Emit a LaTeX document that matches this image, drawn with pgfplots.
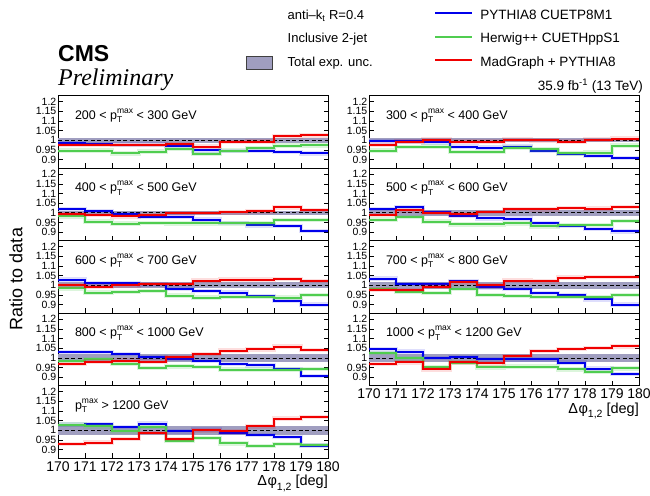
\documentclass[border=0pt]{standalone}
\usepackage{pgfplots}
\pgfplotsset{compat=1.18}
\usepackage{pgfplotstable}
\usepackage{fontspec}
\setmainfont{Liberation Sans}
\newfontfamily\serifit{Liberation Serif}
\definecolor{cblue}{RGB}{0,0,235}
\definecolor{hgreen}{RGB}{80,205,80}
\definecolor{cred}{RGB}{240,0,0}
\definecolor{cband}{RGB}{160,158,192}
\newcommand{\fs}[1]{\fontsize{#1}{#1}\selectfont}
\newcommand{\ptmax}{p\rlap{\raisebox{-0.5ex}{\fs{8.5}T}}\raisebox{0.9ex}{\fs{8.5}max}}
\tikzset{plab/.style={anchor=west, font=\fs{12.5}},
  xlab/.style={anchor=north east, font=\fs{14.5}, inner sep=0pt}}

\pgfplotsset{
  panel/.style={scale only axis, width=270pt, height=72.5pt, anchor=south west,
    xmin=170, xmax=180, ymin=0.857, ymax=1.232, no markers,
    xtick={170,171,...,180}, xticklabels={},
    ytick={0.9,0.95,1,1.05,1.1,1.15,1.2}, yticklabels={0.9,0.95,1,1.05,1.1,1.15,1.2},
    tick align=inside, xtick pos=bottom, ytick pos=both, yticklabel pos=left,
    major tick length=4.5pt, tick style={black, line width=0.6pt},
    axis line style={black, line width=0.8pt},
    yticklabel style={font=\fs{10.5}, inner sep=1.5pt},
    xticklabel style={font=\fs{14}}},
  withx/.style={xticklabels={170,171,172,173,174,175,176,177,178,179,180}},
  bandst/.style={fill=cband, draw=none, forget plot},
  dline/.style={black, line width=0.7pt, dash pattern=on 4pt off 2.5pt, forget plot},
  sb/.style={const plot, cblue, line width=2pt, forget plot, preaction={draw=cblue, draw opacity=0.13, line width=4.5pt}},
  sg/.style={const plot, hgreen, line width=2pt, forget plot, preaction={draw=hgreen, draw opacity=0.2, line width=4.5pt}},
  sr/.style={const plot, cred, line width=2pt, forget plot, preaction={draw=cred, draw opacity=0.13, line width=4.5pt}},
}

% x: bin lower edge; last row repeats last bin to close the step
\pgfplotstableread{
x b g r
170 0.986 0.947 0.977
171 0.982 0.947 0.976
172 0.978 0.933 0.975
173 0.978 0.942 0.977
174 0.972 0.954 0.982
175 0.948 0.929 0.968
176 0.945 0.947 0.991
177 0.947 0.960 0.993
178 0.941 0.973 1.021
179 0.933 0.974 1.026
180 0.933 0.974 1.026
}\tA
\pgfplotstableread{
x b g r
170 0.995 0.947 0.978
171 0.995 0.965 0.993
172 0.990 0.968 1.004
173 0.968 0.940 0.993
174 0.962 0.940 0.993
175 0.968 0.963 1.004
176 0.946 0.953 1.000
177 0.930 0.932 0.994
178 0.920 0.936 1.004
179 0.908 0.973 1.009
180 0.908 0.973 1.009
}\tB
\pgfplotstableread{
x b g r
170 1.020 0.982 0.994
171 1.010 0.955 0.990
172 0.995 0.944 0.982
173 0.980 0.948 0.988
174 0.980 0.945 0.997
175 0.965 0.945 1.000
176 0.947 0.945 1.002
177 0.935 0.945 1.007
178 0.933 0.962 1.028
179 0.905 0.962 1.014
180 0.905 0.962 1.014
}\tC
\pgfplotstableread{
x b g r
170 1.020 0.965 0.988
171 1.028 0.978 1.013
172 1.005 0.955 1.000
173 0.985 0.940 0.992
174 0.972 0.940 1.005
175 0.970 0.945 1.020
176 0.945 0.930 1.018
177 0.932 0.937 1.024
178 0.917 0.937 1.022
179 0.904 0.958 1.030
180 0.904 0.958 1.030
}\tD
\pgfplotstableread{
x b g r
170 1.030 0.984 1.000
171 1.012 0.963 0.993
172 1.012 0.966 1.000
173 1.005 0.972 1.008
174 0.983 0.947 1.008
175 0.972 0.937 1.025
176 0.962 0.940 1.030
177 0.945 0.940 1.030
178 0.920 0.937 1.033
179 0.900 0.951 1.022
180 0.900 0.951 1.022
}\tE
\pgfplotstableread{
x b g r
170 1.035 0.980 0.978
171 1.008 0.966 0.975
172 1.005 0.960 0.993
173 1.022 0.983 1.015
174 0.990 0.949 1.000
175 0.980 0.946 1.024
176 0.960 0.940 1.020
177 0.949 0.939 1.040
178 0.928 0.939 1.042
179 0.900 0.949 1.042
180 0.900 0.949 1.042
}\tF
\pgfplotstableread{
x b g r
170 1.029 0.985 0.969
171 1.029 0.993 0.980
172 1.020 0.970 0.986
173 1.003 0.947 0.980
174 0.993 0.956 1.002
175 0.986 0.952 1.020
176 0.969 0.939 1.037
177 0.961 0.939 1.044
178 0.942 0.939 1.058
179 0.905 0.942 1.041
180 0.905 0.942 1.041
}\tG
\pgfplotstableread{
x b g r
170 1.044 1.025 0.969
171 1.032 0.997 0.976
172 1.000 0.951 0.941
173 1.005 0.975 0.976
174 0.992 0.951 0.971
175 0.992 0.954 1.010
176 0.992 0.954 1.035
177 0.975 0.941 1.047
178 0.944 0.926 1.050
179 0.917 0.946 1.059
180 0.917 0.946 1.059
}\tH
\pgfplotstableread{
x b g r
170 1.030 1.030 0.930
171 1.033 1.021 0.937
172 1.018 0.995 0.956
173 1.035 1.018 0.986
174 0.995 0.946 0.956
175 1.004 0.960 1.000
176 0.986 0.933 0.995
177 0.977 0.919 1.021
178 0.965 0.930 1.061
179 0.921 0.925 1.068
180 0.921 0.925 1.068
}\tI

\begin{document}
\begin{tikzpicture}
\useasboundingbox (0pt,0pt) rectangle (650pt,495pt);

% ---- row 1 left: 200-300
\begin{axis}[panel, at={(58pt,327pt)},
  legend style={at={(0.696,2.19)}, anchor=north west, draw=none, fill=none,
    font=\fs{13}, column sep=15pt, row sep=9.5pt, inner sep=0pt,
    nodes={inner sep=0pt, text height=10pt, text depth=4pt}},
  legend cell align=left]
\addlegendimage{legend image code/.code={}}
\addlegendentry{anti\textendash k\textsubscript{t} R=0.4}
\addlegendimage{legend image code/.code={}}
\addlegendentry{Inclusive 2-jet}
\addlegendimage{legend image code/.code={\draw[fill=cband, draw=black!75, line width=0.6pt] (0pt,-6pt) rectangle (26pt,7pt);}}
\addlegendentry{Total exp. unc.}
\addplot[bandst] coordinates {(170,0.988)(180,0.988)(180,1.012)(170,1.012)};
\addplot[dline] coordinates {(170,1)(180,1)};
\addplot[sb] table[y=b]{\tA};
\addplot[sg] table[y=g]{\tA};
\addplot[sr] table[y=r]{\tA};
\node[plab] at (rel axis cs:0.05,0.72) {200 < \ptmax\ < 300 GeV};
\end{axis}

% ---- row 1 right: 300-400
\begin{axis}[panel, at={(369pt,327pt)},
  legend image code/.code={\draw[#1] (0pt,3pt) -- (37pt,3pt);},
  legend style={at={(0.241,2.19)}, anchor=north west, draw=none, fill=none,
    font=\fs{13.5}, column sep=7pt, row sep=9.5pt, inner sep=0pt,
    nodes={inner sep=0pt, text height=10pt, text depth=4pt}},
  legend cell align=left]
\addlegendimage{draw=cblue, line width=2pt}
\addlegendentry{PYTHIA8 CUETP8M1}
\addlegendimage{draw=hgreen, line width=2pt}
\addlegendentry{Herwig++ CUETHppS1}
\addlegendimage{draw=cred, line width=2pt}
\addlegendentry{MadGraph + PYTHIA8}
\addplot[bandst] coordinates {(170,0.99)(180,0.99)(180,1.01)(170,1.01)};
\addplot[dline] coordinates {(170,1)(180,1)};
\addplot[sb] table[y=b]{\tB};
\addplot[sg] table[y=g]{\tB};
\addplot[sr] table[y=r]{\tB};
\node[plab] at (rel axis cs:0.05,0.72) {300 < \ptmax\ < 400 GeV};
\end{axis}

% ---- row 2 left: 400-500
\begin{axis}[panel, at={(58pt,254.5pt)}]
\addplot[bandst] coordinates {(170,0.988)(180,0.988)(180,1.012)(170,1.012)};
\addplot[dline] coordinates {(170,1)(180,1)};
\addplot[sb] table[y=b]{\tC};
\addplot[sg] table[y=g]{\tC};
\addplot[sr] table[y=r]{\tC};
\node[plab] at (rel axis cs:0.05,0.72) {400 < \ptmax\ < 500 GeV};
\end{axis}

% ---- row 2 right: 500-600
\begin{axis}[panel, at={(369pt,254.5pt)}]
\addplot[bandst] coordinates {(170,0.985)(180,0.985)(180,1.015)(170,1.015)};
\addplot[dline] coordinates {(170,1)(180,1)};
\addplot[sb] table[y=b]{\tD};
\addplot[sg] table[y=g]{\tD};
\addplot[sr] table[y=r]{\tD};
\node[plab] at (rel axis cs:0.05,0.72) {500 < \ptmax\ < 600 GeV};
\end{axis}

% ---- row 3 left: 600-700
\begin{axis}[panel, at={(58pt,182pt)}]
\addplot[bandst] coordinates {(170,0.985)(180,0.985)(180,1.015)(170,1.015)};
\addplot[dline] coordinates {(170,1)(180,1)};
\addplot[sb] table[y=b]{\tE};
\addplot[sg] table[y=g]{\tE};
\addplot[sr] table[y=r]{\tE};
\node[plab] at (rel axis cs:0.05,0.72) {600 < \ptmax\ < 700 GeV};
\end{axis}

% ---- row 3 right: 700-800
\begin{axis}[panel, at={(369pt,182pt)}]
\addplot[bandst] coordinates {(170,0.982)(180,0.982)(180,1.018)(170,1.018)};
\addplot[dline] coordinates {(170,1)(180,1)};
\addplot[sb] table[y=b]{\tF};
\addplot[sg] table[y=g]{\tF};
\addplot[sr] table[y=r]{\tF};
\node[plab] at (rel axis cs:0.05,0.72) {700 < \ptmax\ < 800 GeV};
\end{axis}

% ---- row 4 left: 800-1000
\begin{axis}[panel, at={(58pt,109.5pt)}]
\addplot[bandst] coordinates {(170,0.98)(180,0.98)(180,1.02)(170,1.02)};
\addplot[dline] coordinates {(170,1)(180,1)};
\addplot[sb] table[y=b]{\tG};
\addplot[sg] table[y=g]{\tG};
\addplot[sr] table[y=r]{\tG};
\node[plab] at (rel axis cs:0.05,0.72) {800 < \ptmax\ < 1000 GeV};
\end{axis}

% ---- row 4 right: 1000-1200 (bottom of right column)
\begin{axis}[panel, withx, at={(369pt,109.5pt)}, name=axR]
\addplot[bandst] coordinates {(170,0.98)(180,0.98)(180,1.02)(170,1.02)};
\addplot[dline] coordinates {(170,1)(180,1)};
\addplot[sb] table[y=b]{\tH};
\addplot[sg] table[y=g]{\tH};
\addplot[sr] table[y=r]{\tH};
\node[plab] at (rel axis cs:0.05,0.72) {1000 < \ptmax\ < 1200 GeV};
\end{axis}

% ---- row 5 left: >1200
\begin{axis}[panel, withx, at={(58pt,37pt)}, name=axL]
\addplot[bandst] coordinates {(170,0.978)(180,0.978)(180,1.022)(170,1.022)};
\addplot[dline] coordinates {(170,1)(180,1)};
\addplot[sb] table[y=b]{\tI};
\addplot[sg] table[y=g]{\tI};
\addplot[sr] table[y=r]{\tI};
\node[plab] at (rel axis cs:0.05,0.72) {\ptmax\ > 1200 GeV};
\end{axis}

% ---- axis titles
\node[xlab] at ([yshift=-17pt]axR.south east) {Δ\kern0.5ptφ\raisebox{-0.6ex}{\fs{10.5}1,2} [deg]};
\node[xlab] at ([yshift=-17pt]axL.south east) {Δ\kern0.5ptφ\raisebox{-0.6ex}{\fs{10.5}1,2} [deg]};
\node[rotate=90, font=\fs{18}, inner sep=0pt] at (16pt,216pt) {Ratio to data};

% ---- titles
\node[anchor=base west, font=\fs{23}\bfseries, inner sep=0pt] at (58pt,433pt) {CMS};
\node[anchor=base west, font=\fs{24}\serifit\itshape, inner sep=0pt] at (58pt,409pt) {Preliminary};
\node[anchor=base east, font=\fs{13.5}, inner sep=0pt] at (643pt,404pt) {35.9 fb\textsuperscript{-1} (13 TeV)};
\end{tikzpicture}
\end{document}
